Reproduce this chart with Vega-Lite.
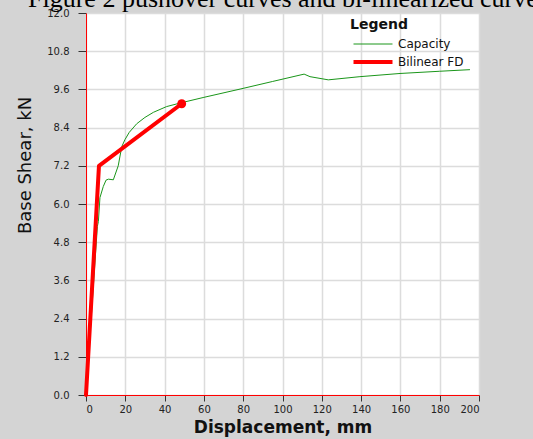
{
  "$schema": "https://vega.github.io/schema/vega-lite/v6.json",
  "width": 393,
  "height": 382,
  "autosize": "none",
  "padding": {"left": 86, "top": 13, "right": 54, "bottom": 44},
  "background": "#d4d4d4",
  "title": {
    "text": "Figure 2 pushover curves and bi-linearized curve",
    "anchor": "start",
    "frame": "group",
    "font": "Liberation Serif",
    "fontSize": 26,
    "fontWeight": "normal",
    "color": "#000000",
    "dx": -58,
    "offset": -25,
    "baseline": "alphabetic"
  },
  "config": {
    "view": {"fill": "white", "stroke": null}
  },
  "datasets": {
    "capacity": [
      {"d": 0, "v": 0, "series": "Capacity"},
      {"d": 5.8, "v": 5.3, "series": "Capacity"},
      {"d": 6.3, "v": 5.45, "series": "Capacity"},
      {"d": 7.1, "v": 6.2, "series": "Capacity"},
      {"d": 8.8, "v": 6.55, "series": "Capacity"},
      {"d": 10.2, "v": 6.75, "series": "Capacity"},
      {"d": 11.4, "v": 6.78, "series": "Capacity"},
      {"d": 13.9, "v": 6.76, "series": "Capacity"},
      {"d": 16.4, "v": 7.2, "series": "Capacity"},
      {"d": 18.2, "v": 7.8, "series": "Capacity"},
      {"d": 19.8, "v": 8.02, "series": "Capacity"},
      {"d": 22, "v": 8.25, "series": "Capacity"},
      {"d": 25.8, "v": 8.52, "series": "Capacity"},
      {"d": 30, "v": 8.72, "series": "Capacity"},
      {"d": 34.3, "v": 8.88, "series": "Capacity"},
      {"d": 41, "v": 9.06, "series": "Capacity"},
      {"d": 47.8, "v": 9.17, "series": "Capacity"},
      {"d": 60, "v": 9.35, "series": "Capacity"},
      {"d": 78.4, "v": 9.61, "series": "Capacity"},
      {"d": 95, "v": 9.85, "series": "Capacity"},
      {"d": 111, "v": 10.08, "series": "Capacity"},
      {"d": 114, "v": 10.0, "series": "Capacity"},
      {"d": 123.3, "v": 9.9, "series": "Capacity"},
      {"d": 139.4, "v": 10.0, "series": "Capacity"},
      {"d": 159.8, "v": 10.1, "series": "Capacity"},
      {"d": 180, "v": 10.17, "series": "Capacity"},
      {"d": 195.4, "v": 10.22, "series": "Capacity"}
    ],
    "bilinear": [
      {"d": 0, "v": 0, "series": "Bilinear FD"},
      {"d": 6.6, "v": 7.2, "series": "Bilinear FD"},
      {"d": 48.7, "v": 9.15, "series": "Bilinear FD"}
    ],
    "yieldpt": [
      {"d": 48.7, "v": 9.15}
    ]
  },
  "encoding": {
    "x": {
      "field": "d",
      "type": "quantitative",
      "scale": {"domain": [0, 200], "nice": false, "zero": false},
      "axis": {
        "title": "Displacement, mm",
        "values": [0, 20, 40, 60, 80, 100, 120, 140, 160, 180, 200],
        "grid": true,
        "gridColor": "#dcdcdc",
        "gridWidth": 1.5,
        "domainColor": "#ff0000",
        "domainWidth": 1,
        "tickColor": "#333333",
        "tickSize": 6,
        "labelFont": "DejaVu Sans",
        "labelFontSize": 10,
        "labelColor": "#222222",
        "labelPadding": 3,
        "titleFont": "DejaVu Sans",
        "titleFontSize": 17,
        "titleFontWeight": "bold",
        "titleColor": "#111111",
        "titlePadding": 5
      }
    },
    "y": {
      "field": "v",
      "type": "quantitative",
      "scale": {"domain": [0, 12], "nice": false, "zero": false},
      "axis": {
        "title": "Base Shear, kN",
        "values": [0, 1.2, 2.4, 3.6, 4.8, 6, 7.2, 8.4, 9.6, 10.8, 12],
        "format": ".1f",
        "grid": true,
        "gridColor": "#dcdcdc",
        "gridWidth": 1.5,
        "domainColor": "#ff0000",
        "domainWidth": 1,
        "tickColor": "#333333",
        "tickSize": 8,
        "labelFont": "DejaVu Sans",
        "labelFontSize": 10,
        "labelColor": "#222222",
        "labelPadding": 9,
        "titleFont": "DejaVu Sans",
        "titleFontSize": 18,
        "titleFontWeight": "normal",
        "titleColor": "#111111",
        "titlePadding": 12,
        "titleY": 152
      }
    }
  },
  "layer": [
    {
      "data": {"name": "capacity"},
      "mark": {"type": "line", "interpolate": "linear"},
      "encoding": {
        "color": {
          "field": "series",
          "type": "nominal",
          "scale": {"domain": ["Capacity", "Bilinear FD"], "range": ["#1a961a", "#ff0000"]},
          "legend": {
            "title": "Legend",
            "orient": "none",
            "legendX": 264,
            "legendY": 5,
            "titleFont": "DejaVu Sans",
            "titleFontSize": 14,
            "titleFontWeight": "bold",
            "titleColor": "#111111",
            "labelFont": "DejaVu Sans",
            "labelFontSize": 12,
            "labelColor": "#111111",
            "symbolType": "M-4,0H4",
            "symbolSize": 95,
            "symbolOffset": 16,
            "labelOffset": 18,
            "rowPadding": 4,
            "titlePadding": 6
          }
        },
        "strokeWidth": {
          "field": "series",
          "type": "nominal",
          "scale": {"domain": ["Capacity", "Bilinear FD"], "range": [1, 4]},
          "legend": {
            "title": "Legend",
            "orient": "none",
            "legendX": 264,
            "legendY": 5,
            "symbolType": "M-4,0H4",
            "symbolSize": 95,
            "symbolOffset": 16,
            "labelOffset": 18
          }
        },
        "order": {"field": "d", "type": "quantitative"}
      }
    },
    {
      "data": {"name": "bilinear"},
      "mark": {"type": "line", "interpolate": "linear", "strokeCap": "round", "strokeJoin": "round"},
      "encoding": {
        "color": {"field": "series", "type": "nominal"},
        "strokeWidth": {"field": "series", "type": "nominal"},
        "order": {"field": "d", "type": "quantitative"}
      }
    },
    {
      "data": {"name": "yieldpt"},
      "mark": {"type": "point", "filled": true, "color": "#ff0000", "size": 80, "opacity": 1},
      "encoding": {}
    }
  ]
}
